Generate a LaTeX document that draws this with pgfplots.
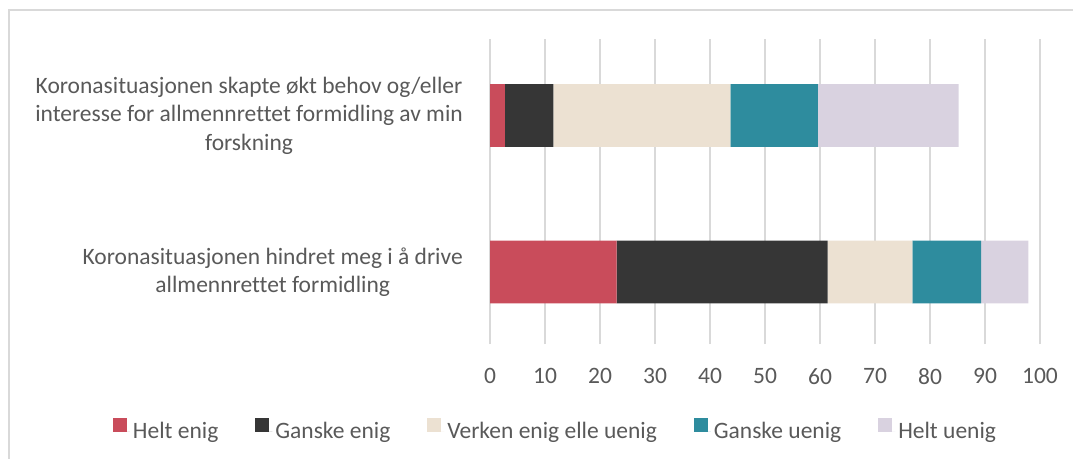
\documentclass[border=0pt]{standalone}
\usepackage{pgfplots}
\pgfplotsset{compat=1.18}
\usepackage{fontspec}
\setmainfont{Carlito}[Ligatures={NoCommon}]
\definecolor{cRed}{HTML}{C94C5B}
\definecolor{cDark}{HTML}{363636}
\definecolor{cBeige}{HTML}{ECE1D2}
\definecolor{cTeal}{HTML}{2E8C9E}
\definecolor{cLav}{HTML}{D9D2E0}
\definecolor{gridgray}{HTML}{D9D9D9}
\definecolor{textgray}{HTML}{595959}
\begin{document}
\begin{tikzpicture}[x=1bp,y=1bp]
\begin{axis}[
  at={(490bp,115bp)}, anchor=south west,
  scale only axis, width=550bp, height=305bp,
  xbar stacked, bar width=0.4,
  xmin=0, xmax=100, xtick={0,10,...,100},
  ymin=-0.46, ymax=1.489,
  ytick={0,1},
  yticklabels={{Koronasituasjonen hindret meg i å drive\\allmennrettet formidling},
               {Koronasituasjonen skapte økt behov og/eller\\interesse for allmennrettet formidling av min\\forskning}},
  xmajorgrids, grid style={draw=gridgray, line width=1.5bp},
  axis line style={draw=none},
  major tick length=0pt, tick style={draw=none},
  /pgf/number format/assume math mode=true,
  tick label style={font=\fontsize{23.5bp}{28.5bp}\selectfont, text=textgray},
  xticklabel style={inner sep=0pt, anchor=north, yshift=-24bp},
  yticklabel style={inner sep=0pt, anchor=east, align=center, xshift=-27bp},
  legend columns=5,
  legend style={draw=none, fill=none, inner sep=0pt, outer sep=0pt,
    at={(-0.6855,-0.2787)}, anchor=west,
    font=\fontsize{23.5bp}{28.5bp}\selectfont, text=textgray,
    nodes={inner sep=0pt},
    /tikz/every odd column/.append style={column sep=3bp},
    /tikz/every even column/.append style={column sep=37bp}},
  legend image code/.code={\fill[#1] (0bp,0bp) rectangle (14bp,14bp);
    \path (0bp,0bp) -- (17bp,0bp);},
]
\addplot[fill=cRed, draw=none] coordinates {(23.0,0) (2.7,1)};
\addplot[fill=cDark, draw=none] coordinates {(38.4,0) (8.8,1)};
\addplot[fill=cBeige, draw=none] coordinates {(15.4,0) (32.2,1)};
\addplot[fill=cTeal, draw=none] coordinates {(12.5,0) (15.9,1)};
\addplot[fill=cLav, draw=none] coordinates {(8.6,0) (25.6,1)};
\legend{Helt enig, Ganske enig, Verken enig elle uenig, Ganske uenig, Helt uenig}
\end{axis}
\draw[gridgray, line width=1.5bp] (9bp,0bp) -- (9bp,449bp) -- (1073bp,449bp);
\pgfresetboundingbox
\path[use as bounding box] (0bp,0bp) rectangle (1073bp,459bp);
\end{tikzpicture}
\end{document}
